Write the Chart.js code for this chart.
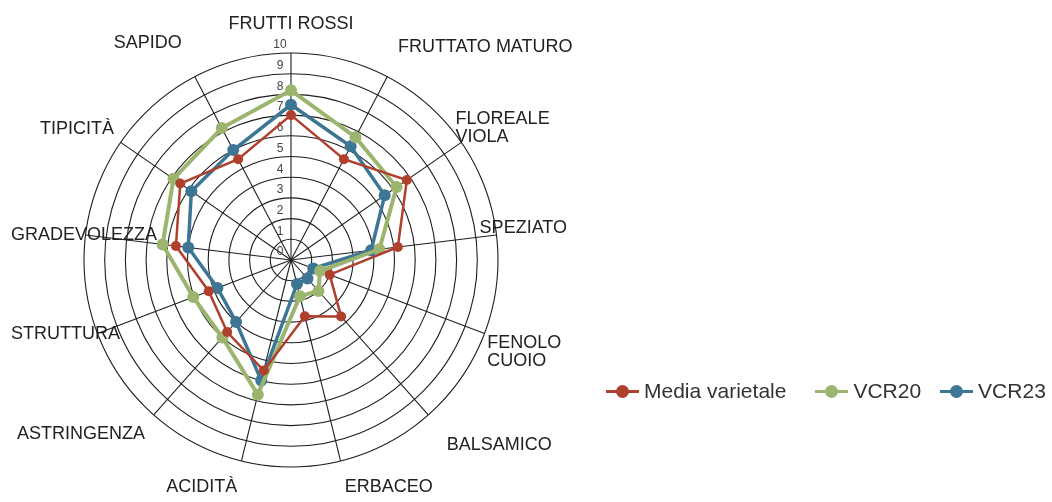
<!DOCTYPE html>
<html lang="it">
<head>
  <meta charset="UTF-8">
  <title>Profilo sensoriale</title>
  <script src="https://cdn.jsdelivr.net/npm/chart.js"></script>
  <style>
    body { margin: 0; background: #fff; }
    #wrap { position: relative; width: 1052px; height: 502px; }
    #legend {
      position: absolute; left: 606px; top: 378px;
      display: flex; align-items: center; white-space: nowrap;
      font: 21px "Liberation Sans", Arial, sans-serif; color: #333;
    }
    .item { display: flex; align-items: center; }
    .item:nth-child(1) { margin-right: 29px; }
    .item:nth-child(2) { margin-right: 19px; }
    .mark { position: relative; width: 33px; height: 26px; margin-right: 5px; flex: none; }
    .mark .ln { position: absolute; left: 0; right: 0; top: 12px; height: 3px; }
    .mark .dot { position: absolute; left: 10px; top: 7px; width: 13px; height: 13px; border-radius: 50%; }
  </style>
</head>
<body>
<div id="wrap">
  <canvas id="radar" width="1052" height="502"></canvas>
  <div id="legend"></div>
</div>

<script>
  // categorie (assi del radar)
  const categories = [
    'FRUTTI ROSSI', 'FRUTTATO MATURO', ['FLOREALE', 'VIOLA'], 'SPEZIATO',
    ['FENOLO', 'CUOIO'], 'BALSAMICO', 'ERBACEO', 'ACIDITÀ', 'ASTRINGENZA',
    'STRUTTURA', 'GRADEVOLEZZA', 'TIPICITÀ', 'SAPIDO'
  ];

  // valori
  const mediaVarietale = [7.0, 5.5, 6.8, 5.2, 2.0, 3.65, 2.8, 5.5, 4.65, 4.25, 5.6, 6.5, 5.5];
  const vcr20 = [8.2, 6.7, 6.2, 4.3, 1.5, 2.0, 1.8, 6.7, 5.0, 5.05, 6.25, 6.9, 7.2];
  const vcr23 = [7.5, 6.2, 5.5, 3.9, 1.15, 1.2, 1.2, 6.0, 4.0, 3.8, 5.0, 5.85, 6.0];

  const tickValues = [0, 1, 2, 3, 4, 5, 6, 7, 8, 9, 10];

  const seriesNames = ['Media varietale', 'VCR20', 'VCR23'];
  const seriesColors = ['#b0402e', '#9bb56f', '#3c7694'];

  // distanza delle etichette dal cerchio esterno (una per asse)
  const labelPadding = [20, 23, -7, -17, 3, 28, 18, 18, 13, -24, -72, 8, 28];

  // etichette dei tick, un po' sopra e a sinistra dell'asse verticale
  const tickLabels = {
    id: 'tickLabels',
    beforeDatasetsDraw(chart) {
      const s = chart.scales.r;
      const ctx = chart.ctx;
      ctx.save();
      ctx.font = '12px "Liberation Sans", Arial, sans-serif';
      ctx.fillStyle = '#444';
      ctx.textAlign = 'center';
      ctx.textBaseline = 'middle';
      tickValues.forEach(v => {
        const d = s.getDistanceFromCenterForValue(v);
        ctx.fillText(String(v), s.xCenter - 11, s.yCenter - d - 8);
      });
      ctx.restore();
    }
  };

  const data = [mediaVarietale, vcr20, vcr23];
  const widths = [2.5, 4, 3.5];
  const radii = [5, 6, 6];

  const chart = new Chart(document.getElementById('radar'), {
    type: 'radar',
    data: {
      labels: categories,
      datasets: data.map((d, i) => ({
        label: seriesNames[i],
        data: d,
        borderColor: seriesColors[i],
        backgroundColor: seriesColors[i],
        pointBackgroundColor: seriesColors[i],
        pointBorderWidth: 0,
        pointRadius: radii[i],
        borderWidth: widths[i],
        fill: false,
        tension: 0
      }))
    },
    options: {
      responsive: false,
      devicePixelRatio: 1,
      animation: false,
      layout: { padding: { left: 0, right: 473, top: 11, bottom: 1 } },
      plugins: {
        legend: { display: false },
        tooltip: { enabled: false }
      },
      scales: {
        r: {
          min: 0,
          max: 10,
          ticks: { stepSize: 1, display: false },
          grid: { circular: true, color: '#1e1e1e', lineWidth: 1.1 },
          angleLines: { color: '#1e1e1e', lineWidth: 1.1 },
          pointLabels: {
            color: '#222',
            font: { family: '"Liberation Sans", Arial, sans-serif', size: 18, lineHeight: 1 },
            padding: ctx => labelPadding[ctx.index]
          }
        }
      }
    },
    plugins: [tickLabels]
  });

  // legenda in HTML
  const legend = document.getElementById('legend');
  seriesNames.forEach((name, i) => {
    const item = document.createElement('div');
    item.className = 'item';
    item.innerHTML = '<span class="mark"><span class="ln" style="background:' + seriesColors[i] +
      '"></span><span class="dot" style="background:' + seriesColors[i] + '"></span></span>' + name;
    legend.appendChild(item);
  });
</script>
</body>
</html>
